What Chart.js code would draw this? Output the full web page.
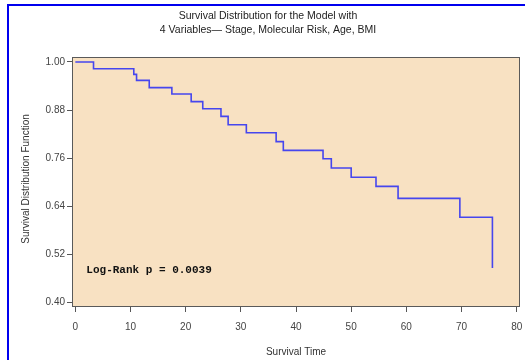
<!DOCTYPE html>
<html>
<head>
<meta charset="utf-8">
<script src="https://cdn.jsdelivr.net/npm/chart.js@4/dist/chart.umd.min.js"></script>
<style>
  html, body { margin: 0; padding: 0; background: #ffffff; }
  #wrap { width: 525px; height: 360px; }
</style>
</head>
<body>
<div id="wrap"><canvas id="c" width="525" height="360"></canvas></div>
<script>
// ---- data ----
const titleLines = ["Survival Distribution for the Model with", "4 Variables\u2014 Stage, Molecular Risk, Age, BMI"];
const xTitle = "Survival Time";
const yTitle = "Survival Distribution Function";
const annotationText = "Log-Rank p = 0.0039";
const annotationAt = [2.0, 0.48];

const times    = [0, 3.3, 10.6, 11.1, 13.4, 17.5, 21.0, 23.1, 26.4, 27.7, 31.0, 36.4, 37.7, 44.9, 46.4, 50.0, 54.5, 58.5, 69.7, 75.6, 75.6];
const survival = [1.000, 0.983, 0.969, 0.954, 0.936, 0.920, 0.901, 0.883, 0.864, 0.843, 0.823, 0.801, 0.779, 0.758, 0.735, 0.712, 0.689, 0.659, 0.612, 0.612, 0.485];

const xTicks = [0, 10, 20, 30, 40, 50, 60, 70, 80];
const yTicks = [0.40, 0.52, 0.64, 0.76, 0.88, 1.00];

const points = times.map((t, i) => ({ x: t, y: survival[i] }));

const decor = {
  id: 'decor',
  beforeDraw(chart) {
    const ctx = chart.ctx, a = chart.chartArea;
    ctx.save();
    ctx.fillStyle = '#ffffff';
    ctx.fillRect(0, 0, chart.width, chart.height);
    // outer blue frame
    ctx.strokeStyle = '#0000EE';
    ctx.lineWidth = 2;
    ctx.beginPath();
    ctx.moveTo(8, chart.height);
    ctx.lineTo(8, 5);
    ctx.lineTo(chart.width, 5);
    ctx.stroke();
    // plot background
    ctx.fillStyle = '#F8E1C2';
    ctx.fillRect(a.left, a.top, a.right - a.left, a.bottom - a.top);
    ctx.restore();
  },
  afterDraw(chart) {
    const ctx = chart.ctx, a = chart.chartArea;
    const xs = chart.scales.x, ys = chart.scales.y;
    ctx.save();
    // plot box
    ctx.strokeStyle = '#5a5a5a';
    ctx.lineWidth = 1;
    ctx.strokeRect(a.left + 0.5, a.top + 0.5, a.right - a.left - 1, a.bottom - a.top - 1);
    // titles
    ctx.fillStyle = '#222';
    ctx.font = '10.5px "Liberation Sans", Arial, sans-serif';
    ctx.textAlign = 'center';
    ctx.textBaseline = 'middle';
    ctx.fillText(titleLines[0], 268, 16);
    ctx.fillText(titleLines[1], 268, 30);
    // axis titles
    ctx.fillStyle = '#333';
    ctx.font = '10px "Liberation Sans", Arial, sans-serif';
    ctx.fillText(xTitle, 296, 352);
    ctx.save();
    ctx.translate(26, 179);
    ctx.rotate(-Math.PI / 2);
    ctx.fillText(yTitle, 0, 0);
    ctx.restore();
    // annotation
    ctx.fillStyle = '#111';
    ctx.font = 'bold 11px "Liberation Mono", "DejaVu Sans Mono", monospace';
    ctx.textAlign = 'left';
    ctx.fillText(annotationText, xs.getPixelForValue(annotationAt[0]), ys.getPixelForValue(annotationAt[1]));
    ctx.restore();
  }
};

new Chart(document.getElementById('c'), {
  type: 'line',
  data: {
    datasets: [{
      data: points,
      stepped: true,
      borderColor: '#4646EE',
      borderWidth: 1.6,
      pointRadius: 0,
      fill: false
    }]
  },
  options: {
    responsive: false,
    animation: false,
    devicePixelRatio: 1,
    layout: { padding: { top: 57, right: 5, bottom: 0, left: 0 } },
    plugins: { legend: { display: false }, tooltip: { enabled: false }, title: { display: false } },
    scales: {
      x: {
        type: 'linear',
        min: -0.6,
        max: 80.6,
        afterBuildTicks(s) { s.ticks = xTicks.map(v => ({ value: v })); },
        afterFit(s) { s.height = 53; s.paddingLeft = 0; s.paddingRight = 0; },
        ticks: {
          autoSkip: false,
          maxRotation: 0,
          padding: 9,
          color: '#444',
          font: { family: '"Liberation Sans", Arial, sans-serif', size: 10 },
          callback: v => String(v)
        },
        grid: { drawOnChartArea: false, drawTicks: true, tickLength: 5, color: '#555' },
        border: { display: false }
      },
      y: {
        type: 'linear',
        min: 0.3875,
        max: 1.0125,
        afterBuildTicks(s) { s.ticks = yTicks.map(v => ({ value: v })); },
        afterFit(s) { s.width = 72; s.paddingTop = 0; s.paddingBottom = 0; },
        ticks: {
          autoSkip: false,
          padding: 2,
          color: '#444',
          font: { family: '"Liberation Sans", Arial, sans-serif', size: 10 },
          callback: v => Number(v).toFixed(2)
        },
        grid: { drawOnChartArea: false, drawTicks: true, tickLength: 5, color: '#555' },
        border: { display: false }
      }
    }
  },
  plugins: [decor]
});
</script>
</body>
</html>
